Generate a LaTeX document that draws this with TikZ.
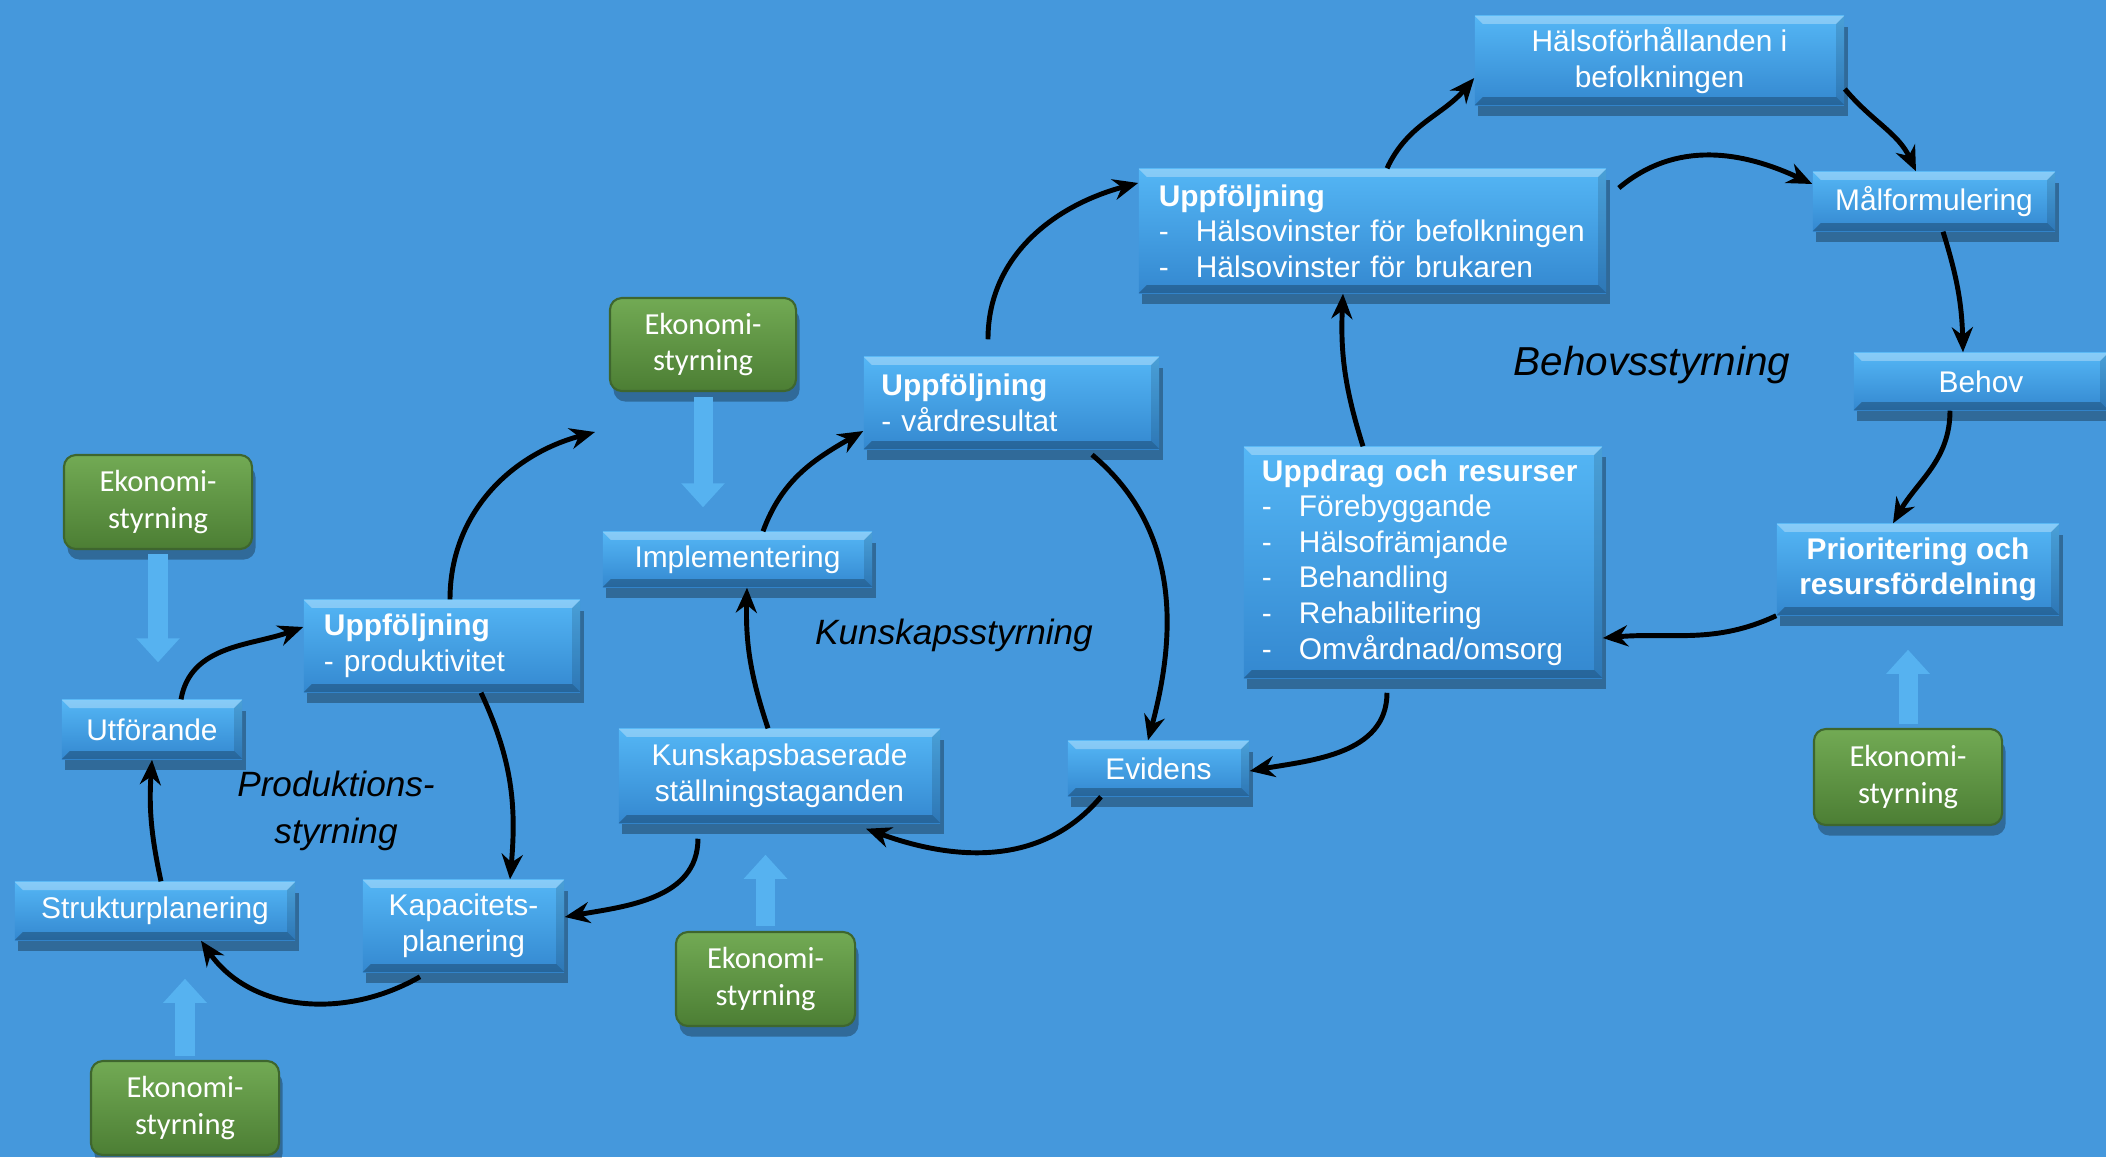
\documentclass[tikz,border=0pt]{standalone}
\usepackage{fontspec}
\setmainfont{Liberation Sans}
\newfontfamily\ekofont{Carlito}
\usetikzlibrary{arrows.meta,shadows}

\definecolor{bakgrund}{RGB}{69,152,220}
\definecolor{boxhi}{RGB}{84,182,245}
\definecolor{boxlo}{RGB}{52,136,208}
\definecolor{ekohi}{RGB}{114,170,84}
\definecolor{ekolo}{RGB}{76,126,52}
\definecolor{ekokant}{RGB}{62,102,46}
\definecolor{pilbla}{RGB}{86,178,240}

\tikzset{
  ruta/.style={rectangle, inner sep=0pt, text=white, top color=boxhi, bottom color=boxlo,
    font=\fontsize{8.5}{10.1}\selectfont, align=center,
    drop shadow={shadow xshift=1pt, shadow yshift=-3pt, opacity=0.3, fill=black},
    path picture={
      \fill[white,opacity=0.3] (path picture bounding box.north west) -- (path picture bounding box.north east)
        -- ++(-0.08cm,-0.08cm) -- ([shift={(0.08cm,-0.08cm)}]path picture bounding box.north west) -- cycle;
      \fill[black,opacity=0.25] (path picture bounding box.south west) -- (path picture bounding box.south east)
        -- ++(-0.08cm,0.08cm) -- ([shift={(0.08cm,0.08cm)}]path picture bounding box.south west) -- cycle;
      \fill[black,opacity=0.12] (path picture bounding box.north east) -- (path picture bounding box.south east)
        -- ++(-0.08cm,0.08cm) -- ([shift={(-0.08cm,-0.08cm)}]path picture bounding box.north east) -- cycle;
    }},
  eko/.style={rectangle, rounded corners=0.12cm, inner sep=0pt, text=white,
    top color=ekohi, bottom color=ekolo, draw=ekokant, line width=0.6pt,
    font=\ekofont\fontsize{8.7}{10.3}\selectfont, align=center,
    minimum width=1.88cm, minimum height=0.94cm,
    drop shadow={shadow xshift=1pt, shadow yshift=-3pt, opacity=0.3, fill=black}},
  styr/.style={-{Stealth[length=0.25cm,width=0.21cm]}, line width=1.4pt, black},
  blockpil/.style={line width=0.19cm, draw=pilbla, -{Triangle[width=0.42cm,length=0.24cm]}},
  rubrik/.style={font=\fontsize{10}{13}\selectfont\itshape, align=center},
}
\newcommand{\streck}{\makebox[0.37cm][l]{-}}

\begin{document}
\begin{tikzpicture}[x=0.01cm,y=0.01cm]
\fill[bakgrund] (0,0) rectangle (2106,-1157);
\useasboundingbox (0,0) rectangle (2106,-1157);

% behovsstyrning
\node[ruta, minimum width=3.69cm, minimum height=0.89cm] (halso) at (1659.5,-60.5) {Hälsoförhållanden i\\befolkningen};
\node[ruta, minimum width=4.67cm, minimum height=1.24cm, text width=4.27cm, align=left] (uppbef) at (1372.5,-231)
  {\textbf{Uppföljning}\\\streck Hälsovinster för befolkningen\\\streck Hälsovinster för brukaren};
\node[ruta, minimum width=2.42cm, minimum height=0.59cm] (malform) at (1934,-201.5) {Målformulering};
\node[ruta, minimum width=2.54cm, minimum height=0.57cm] (behov) at (1981,-381.5) {Behov};
\node[ruta, minimum width=2.82cm, minimum height=0.91cm, font=\fontsize{8.5}{10.1}\selectfont\bfseries] (prio) at (1918,-569.5)
  {Prioritering och\\resursfördelning};
\node[ruta, minimum width=3.58cm, minimum height=2.31cm, text width=3.22cm, align=left] (uppdrag) at (1423,-562.5)
  {\textbf{Uppdrag och resurser}\\\streck Förebyggande\\\streck Hälsofrämjande\\\streck Behandling\\\streck Rehabilitering\\\streck Omvårdnad/omsorg};
\node[eko, minimum height=0.96cm] (eko5) at (1908,-777) {Ekonomi-\\styrning};
\node[rubrik, font=\fontsize{11.5}{14}\selectfont\itshape] (behovtext) at (1652,-365) {Behovsstyrning};

% kunskapsstyrning
\node[ruta, minimum width=1.81cm, minimum height=0.55cm] (evidens) at (1158.5,-768.5) {Evidens};
\node[ruta, minimum width=2.95cm, minimum height=0.92cm, text width=2.6cm, align=left] (uppvard) at (1011.5,-403)
  {\textbf{Uppföljning}\\- vårdresultat};
\node[ruta, minimum width=2.69cm, minimum height=0.55cm] (impl) at (737.5,-559.5) {Implementering};
\node[ruta, minimum width=3.21cm, minimum height=0.94cm] (kunsk) at (779.5,-776) {Kunskapsbaserade\\ställningstaganden};
\node[eko, minimum width=1.86cm, minimum height=0.93cm] (eko2) at (703,-344.5) {Ekonomi-\\styrning};
\node[eko, minimum width=1.79cm] (eko3) at (765.5,-979) {Ekonomi-\\styrning};
\node[rubrik] (kunsktext) at (954,-635) {Kunskapsstyrning};

% produktionsstyrning
\node[ruta, minimum width=2.76cm, minimum height=0.92cm, text width=2.36cm, align=left] (uppprod) at (442,-646)
  {\textbf{Uppföljning}\\- produktivitet};
\node[ruta, minimum width=1.80cm, minimum height=0.59cm] (utf) at (152,-729.5) {Utförande};
\node[ruta, minimum width=2.80cm, minimum height=0.58cm] (struktur) at (155,-911) {Strukturplanering};
\node[ruta, minimum width=2.01cm, minimum height=0.92cm] (kapac) at (463.5,-926) {Kapacitets-\\planering};
\node[eko] (eko1) at (158,-502) {Ekonomi-\\styrning};
\node[eko] (eko4) at (185,-1108) {Ekonomi-\\styrning};
\node[rubrik, font=\fontsize{10}{13.2}\selectfont\itshape] (prodtext) at (336,-811) {Produktions-\\styrning};
\coordinate (fri) at (595,-432);

% ekonomistyrning
\draw[blockpil, shorten <=0.04cm, shorten >=0.37cm] (eko1.south) -- (eko1.south |- utf.north);
\draw[blockpil, shorten <=0.05cm, shorten >=0.24cm] (eko2.south) -- (eko2.south |- impl.north);
\draw[blockpil, shorten <=0.05cm, shorten >=0.31cm] (eko3.north) -- (eko3.north |- kunsk.south);
\draw[blockpil, shorten <=0.04cm, shorten >=0.38cm] (eko4.north) -- (eko4.north |- struktur.south);
\draw[blockpil, shorten <=0.04cm, shorten >=0.34cm] (eko5.north) -- (eko5.north |- prio.south);

% cirklar
\draw[styr] ([xshift=0.08cm]uppprod.north) to[out=90,in=195] (fri);
\draw[styr] ([xshift=-0.435cm,yshift=-0.04cm]kapac.south) to[out=-150,in=-55] ([xshift=0.46cm]struktur.south);
\draw[styr] ([xshift=0.06cm]struktur.north) to[bend left=8] (utf.south);
\draw[styr] ([xshift=0.29cm]utf.north) to[out=80,in=200] ([yshift=0.19cm]uppprod.west);
\draw[styr] ([xshift=0.39cm]uppprod.south) to[out=-65,in=85] ([xshift=0.465cm]kapac.north);
\draw[styr] ([xshift=-0.815cm,yshift=-0.15cm]kunsk.south) to[out=-90,in=10] ([yshift=0.09cm]kapac.east);
\draw[styr] ([xshift=-0.575cm]evidens.south) to[out=-130,in=-20] ([xshift=0.865cm,yshift=-0.05cm]kunsk.south);
\draw[styr] ([xshift=-0.115cm]kunsk.north) to[bend left=10] ([xshift=0.095cm]impl.south);
\draw[styr] ([xshift=0.255cm]impl.north) to[out=70,in=210] ([yshift=-0.28cm]uppvard.west);
\draw[styr] ([xshift=0.805cm,yshift=-0.05cm]uppvard.south) to[out=-40,in=75] ([xshift=-0.105cm]evidens.north);
\draw[styr] ([xshift=-0.235cm,yshift=0.17cm]uppvard.north) to[out=90,in=195] ([yshift=0.48cm]uppbef.west);
\draw[styr] ([xshift=-0.36cm,yshift=-0.14cm]uppdrag.south) to[out=-90,in=10] ([yshift=-0.025cm]evidens.east);
\draw[styr] ([xshift=-0.6cm]uppdrag.north) to[bend left=10] ([xshift=-0.295cm]uppbef.south);
\draw[styr] ([xshift=0.145cm]uppbef.north) to[out=65,in=230] ([yshift=-0.175cm]halso.west);
\draw[styr] ([xshift=0.12cm,yshift=0.43cm]uppbef.east) to[out=40,in=155] ([yshift=0.175cm]malform.west);
\draw[styr] ([yshift=-0.285cm]halso.east) to[out=-50,in=115] ([xshift=-0.18cm]malform.north);
\draw[styr] ([xshift=0.09cm]malform.south) to[bend left=8] ([xshift=-0.18cm]behov.north);
\draw[styr] ([xshift=-0.31cm]behov.south) to[out=-90,in=60] ([xshift=-0.25cm]prio.north);
\draw[styr] (prio.south west) to[out=-155,in=5] ([yshift=-0.755cm]uppdrag.east);
\end{tikzpicture}
\end{document}
